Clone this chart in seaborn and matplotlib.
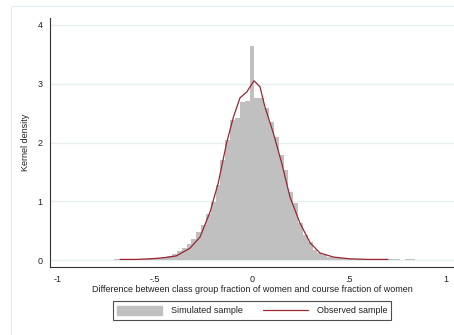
import numpy as np
import pandas as pd
import matplotlib
matplotlib.use("Agg")
import matplotlib.pyplot as plt
import seaborn as sns
from matplotlib.patches import Patch, Rectangle
from matplotlib.lines import Line2D

# ---- data ----
bin_width = 0.025
bin_centers = [-0.700, -0.675, -0.650, -0.625, -0.600, -0.575, -0.550, -0.525,
               -0.500, -0.475, -0.450, -0.425, -0.400, -0.375, -0.350, -0.325,
               -0.300, -0.275, -0.250, -0.225, -0.200, -0.175, -0.150, -0.125,
               -0.100, -0.075, -0.050, -0.025, 0.000, 0.025, 0.050, 0.075,
               0.100, 0.125, 0.150, 0.175, 0.200, 0.225, 0.250, 0.275,
               0.300, 0.325, 0.350, 0.375, 0.400, 0.425, 0.450, 0.475,
               0.500, 0.525, 0.550, 0.575, 0.600, 0.625, 0.650, 0.675,
               0.700, 0.725, 0.750, 0.775, 0.800, 0.825]
sim_density = [0.01, 0.01, 0.01, 0.01, 0.02, 0.02, 0.02, 0.03,
               0.03, 0.04, 0.05, 0.07, 0.10, 0.15, 0.21, 0.28,
               0.36, 0.47, 0.60, 0.78, 0.98, 1.28, 1.70, 2.05,
               2.38, 2.42, 2.69, 2.70, 3.64, 2.76, 2.75, 2.59,
               2.35, 2.09, 1.79, 1.53, 1.16, 0.97, 0.63, 0.43,
               0.31, 0.17, 0.12, 0.08, 0.05, 0.05, 0.04, 0.03,
               0.02, 0.02, 0.02, 0.01, 0.01, 0.01, 0.01, 0.01,
               0.01, 0.01, 0.01, 0.00, 0.01, 0.01]

obs_x = [-0.68, -0.60, -0.526, -0.45, -0.39, -0.32, -0.268, -0.216, -0.174,
         -0.131, -0.096, -0.062, -0.027, 0.01, 0.041, 0.067, 0.11, 0.153,
         0.196, 0.247, 0.30, 0.35, 0.42, 0.505, 0.60, 0.70]
obs_y = [0.01, 0.01, 0.02, 0.04, 0.07, 0.20, 0.39, 0.82, 1.31,
         1.99, 2.43, 2.76, 2.86, 3.05, 2.95, 2.60, 2.16, 1.65,
         1.07, 0.63, 0.29, 0.12, 0.05, 0.02, 0.01, 0.01]

y_ticks = [0, 1, 2, 3, 4]
x_ticks = [-1, -0.5, 0, 0.5, 1]
x_tick_labels = ["-1", "-.5", "0", ".5", "1"]
x_label = "Difference between class group fraction of women and course fraction of women"
y_label = "Kernel density"
legend_labels = ["Simulated sample", "Observed sample"]

# ---- styling ----
sns.set_style("white")
plt.rcParams["font.family"] = ["Liberation Sans", "DejaVu Sans"]
bar_color = "#c0c0c0"
line_color = "#9b2530"
grid_color = "#e6eef0"
text_color = "#222222"

fig = plt.figure(figsize=(4.54, 3.35), dpi=100)
fig.patch.set_facecolor("white")
# outer graph-region outline (extends past the bottom/right edges)
fig.patches.append(Rectangle((11 / 454, -0.2), 1.2, 0.2 + (335 - 6) / 335,
                             transform=fig.transFigure, fill=False,
                             edgecolor="#e3ecef", linewidth=0.8, zorder=0))

ax = fig.add_axes([50 / 454, 1 - 267 / 335, 404 / 454, 249 / 335])
ax.set_facecolor("white")

edges = [c - bin_width / 2 for c in bin_centers] + [bin_centers[-1] + bin_width / 2]
df_hist = pd.DataFrame({"x": bin_centers, "w": sim_density})
sns.histplot(data=df_hist, x="x", weights="w", bins=edges, stat="count",
             color=bar_color, edgecolor=bar_color, linewidth=0.0, alpha=1.0,
             element="bars", ax=ax, zorder=2)

df_obs = pd.DataFrame({"x": obs_x, "y": obs_y})
sns.lineplot(data=df_obs, x="x", y="y", color=line_color, linewidth=0.9,
             ax=ax, zorder=3)

ax.set_xlim(-1.041, 1.041)
ax.set_ylim(-0.119, 4.119)
ax.set_yticks(y_ticks)
ax.set_yticklabels([str(t) for t in y_ticks])
ax.set_xticks(x_ticks)
ax.set_xticklabels(x_tick_labels)
for t in y_ticks:
    ax.axhline(t, color=grid_color, linewidth=0.9, zorder=1)

for s in ["top", "right"]:
    ax.spines[s].set_visible(False)
for s in ["left", "bottom"]:
    ax.spines[s].set_color("#333333")
    ax.spines[s].set_linewidth(0.8)

ax.tick_params(axis="both", direction="out", length=3.5, width=0.7,
               color="#333333", labelsize=6.5, labelcolor=text_color, pad=2)
ax.set_xlabel(x_label, fontsize=6.5, color=text_color, labelpad=1)
ax.set_ylabel(y_label, fontsize=6.5, color=text_color, labelpad=5)

handles = [Patch(facecolor=bar_color, edgecolor=bar_color),
           Line2D([0], [0], color=line_color, linewidth=0.9)]
leg = fig.legend(handles, legend_labels, loc="center",
                 bbox_to_anchor=(252 / 454, 1 - 310.5 / 335), ncol=2,
                 fontsize=6.5, frameon=True, fancybox=False, handlelength=5.0,
                 handleheight=1.3, columnspacing=2.2, handletextpad=1.0,
                 borderpad=0.45)
leg.get_frame().set_edgecolor("#222222")
leg.get_frame().set_linewidth(0.8)
for t in leg.get_texts():
    t.set_color(text_color)

fig.savefig("out.png", dpi=100, facecolor="white")
